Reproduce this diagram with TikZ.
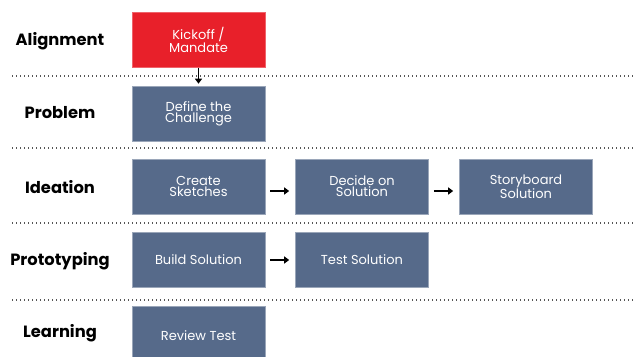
\documentclass[tikz,border=0pt]{standalone}
\usepackage{fontspec}
\setmainfont{Poppins}
\usetikzlibrary{arrows.meta}
\definecolor{kred}{HTML}{E8202A}
\definecolor{kblue}{HTML}{566A8A}
\definecolor{kdot}{HTML}{555555}
\begin{document}
\begin{tikzpicture}[x=1pt,y=-1pt,
  stagebox/.style={fill=kblue,draw=kblue!60!white,line width=0.6pt,minimum width=133pt,minimum height=55pt,inner sep=0pt,align=center,text=white,font=\fontsize{13}{11}\selectfont},
  redbox/.style={stagebox,fill=kred,draw=kred!70!white},
  lanelabel/.style={font=\fontsize{16.3}{19}\selectfont\bfseries,anchor=center},
  sep/.style={draw=kdot,line width=1.3pt,dash pattern=on 1.3pt off 2.7pt},
  flow/.style={-{Triangle[length=5pt,width=7pt]},line width=1.6pt,black}]
\useasboundingbox (0,0) rectangle (634,356);
% separators
\coordinate (s1a) at (12,76); \coordinate (s1b) at (634,76);
\coordinate (s2a) at (12,148); \coordinate (s2b) at (634,148);
\coordinate (s3a) at (12,223); \coordinate (s3b) at (634,223);
\coordinate (s4a) at (12,300); \coordinate (s4b) at (634,300);
\draw[sep] (s1a) -- (s1b);
\draw[sep] (s2a) -- (s2b);
\draw[sep] (s3a) -- (s3b);
\draw[sep] (s4a) -- (s4b);
% lane labels
\node[lanelabel] (lalign) at (60,41) {Alignment};
\node[lanelabel] (lprob) at (60,113) {Problem};
\node[lanelabel] (lidea) at (60,187) {Ideation};
\node[lanelabel] (lproto) at (60,261) {Prototyping};
\node[lanelabel] (llearn) at (60,333) {Learning};
% boxes
\node[redbox] (kick) at (198.5,40) {Kickoff /\\Mandate};
\node[stagebox] (def) at (198.5,113.5) {Define the\\Challenge};
\node[stagebox] (create) at (198.5,186.5) {Create\\Sketches};
\node[stagebox] (decide) at (362,186.5) {Decide on\\Solution};
\node[stagebox] (story) at (526,186.5) {Storyboard\\Solution};
\node[stagebox] (build) at (198.5,260) {Build Solution};
\node[stagebox] (test) at (362,260) {Test Solution};
\node[stagebox,minimum height=60pt] (review) at (198.5,336) {Review Test};
% arrows
\draw[flow,shorten >=2pt] (kick.south) -- (def.north);
\draw[flow,shorten <=5pt,shorten >=6pt] (create.east |- 0,191) -- (decide.west |- 0,191);
\draw[flow,shorten <=5pt,shorten >=6pt] (decide.east |- 0,191) -- (story.west |- 0,191);
\draw[flow,shorten <=5pt,shorten >=6pt] (build.east) -- (test.west);
\end{tikzpicture}
\end{document}
